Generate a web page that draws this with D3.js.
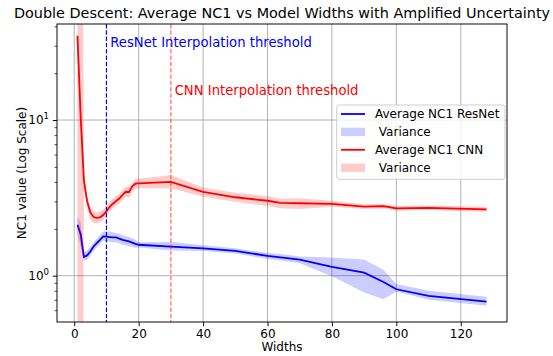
<!DOCTYPE html>
<html>
<head>
<meta charset="utf-8">
<script src="https://cdnjs.cloudflare.com/ajax/libs/d3/7.9.0/d3.min.js"></script>
<style>
  body { margin: 0; background: #fff; }
  svg { display: block; font-family: "DejaVu Sans", sans-serif; }
</style>
</head>
<body>
<div id="chart"></div>
<script>
// --- dados ---
const widths = [1, 2, 3, 4, 5, 6, 7, 8, 9, 10, 11, 12, 13, 14, 15, 16, 17, 18, 19, 20,
  30, 40, 50, 60, 64, 70, 80, 90, 96, 100, 110, 128];

const resnetMean = [2.12, 1.85, 1.32, 1.35, 1.43, 1.54, 1.62, 1.7, 1.79, 1.78, 1.77, 1.76, 1.76, 1.73, 1.7, 1.68, 1.66, 1.63, 1.6, 1.58,
  1.535, 1.5, 1.445, 1.34, 1.31, 1.27, 1.14, 1.045, 0.91, 0.818, 0.741, 0.681];
const resnetLow = [1.82, 1.55, 1.25, 1.27, 1.35, 1.45, 1.52, 1.6, 1.68, 1.66, 1.65, 1.64, 1.64, 1.61, 1.58, 1.56, 1.55, 1.53, 1.51, 1.52,
  1.45, 1.44, 1.39, 1.28, 1.25, 1.2, 0.99, 0.78, 0.705, 0.79, 0.7, 0.64];
const resnetHigh = [2.39, 2.2, 1.42, 1.45, 1.53, 1.64, 1.73, 1.82, 1.92, 1.93, 1.92, 1.9, 1.88, 1.86, 1.82, 1.8, 1.77, 1.74, 1.7, 1.64,
  1.65, 1.57, 1.5, 1.4, 1.38, 1.33, 1.31, 1.27, 1.09, 0.885, 0.8, 0.733];

const cnnMean = [34.8, 10.5, 4.1, 3.0, 2.55, 2.38, 2.35, 2.37, 2.45, 2.6, 2.77, 2.9, 3.02, 3.13, 3.3, 3.46, 3.45, 3.75, 3.9, 3.92,
  4.0, 3.46, 3.19, 3.03, 2.94, 2.92, 2.89, 2.78, 2.8, 2.71, 2.73, 2.67];
const cnnLow = [1e-6, 1e-6, 3.7, 2.75, 2.3, 2.17, 2.17, 2.2, 2.27, 2.42, 2.58, 2.7, 2.8, 2.9, 3.06, 3.2, 3.18, 3.42, 3.62, 3.64,
  3.64, 3.22, 2.99, 2.8, 2.71, 2.68, 2.77, 2.68, 2.7, 2.62, 2.64, 2.57];
const cnnHigh = [1e6, 1e6, 4.5, 3.3, 2.8, 2.6, 2.56, 2.58, 2.66, 2.82, 2.98, 3.12, 3.25, 3.37, 3.55, 3.72, 3.72, 3.98, 4.2, 4.2,
  4.43, 3.69, 3.41, 3.25, 3.12, 3.14, 3.03, 2.88, 2.9, 2.8, 2.82, 2.77];

const xTicks = [0, 20, 40, 60, 80, 100, 120];
const yMajor = [1, 10];
const yMinor = [0.6, 0.7, 0.8, 0.9, 2, 3, 4, 5, 6, 7, 8, 9, 20, 30, 40];
const thresholds = [
  { w: 10, label: "ResNet Interpolation threshold", cor: "blue", linha: "blue", opac: 1, ty: 47 },
  { w: 30, label: "CNN Interpolation threshold", cor: "red", linha: "red", opac: 0.6, ty: 95 },
];
const legenda = [
  { tipo: "linha", cor: "blue", texto: "Average NC1 ResNet" },
  { tipo: "area", cor: "rgba(0,0,255,0.2)", texto: " Variance" },
  { tipo: "linha", cor: "red", texto: "Average NC1 CNN" },
  { tipo: "area", cor: "rgba(255,0,0,0.2)", texto: " Variance" },
];

const W = 553, H = 356;
const esq = 57, dir = 507, topo = 24, base = 322;

const svg = d3.select("#chart").append("svg")
  .attr("width", W).attr("height", H);

const x = d3.scaleLinear().domain([-5.35, 134.35]).range([esq, dir]);
const y = d3.scaleLog().domain([0.504, 41.4]).range([base, topo]);

svg.append("defs").append("clipPath").attr("id", "clip")
  .append("rect").attr("x", esq).attr("y", topo)
  .attr("width", dir - esq).attr("height", base - topo);

// grade
const grade = svg.append("g");
xTicks.forEach(t => {
  grade.append("line").attr("x1", x(t)).attr("x2", x(t)).attr("y1", topo).attr("y2", base)
    .attr("stroke", "#b0b0b0").attr("stroke-width", 0.96);
});
yMajor.forEach(t => {
  grade.append("line").attr("x1", esq).attr("x2", dir).attr("y1", y(t)).attr("y2", y(t))
    .attr("stroke", "#b0b0b0").attr("stroke-width", 0.96);
});

const plot = svg.append("g").attr("clip-path", "url(#clip)");

const linha = vals => d3.line().x((d, i) => x(widths[i])).y(d => y(d))(vals);
const area = (lo, hi) => d3.area()
  .x((d, i) => x(widths[i]))
  .y0((d, i) => y(lo[i]))
  .y1((d, i) => y(hi[i]))(widths);

plot.append("path").attr("d", linha(resnetMean))
  .attr("fill", "none").attr("stroke", "blue").attr("stroke-width", 1.8);
plot.append("path").attr("d", area(resnetLow, resnetHigh))
  .attr("fill", "blue").attr("fill-opacity", 0.2);
plot.append("path").attr("d", linha(cnnMean))
  .attr("fill", "none").attr("stroke", "red").attr("stroke-width", 1.8);
plot.append("path").attr("d", area(cnnLow, cnnHigh))
  .attr("fill", "red").attr("fill-opacity", 0.2);

// linhas de limiar + textos
thresholds.forEach(t => {
  plot.append("line").attr("x1", x(t.w)).attr("x2", x(t.w)).attr("y1", topo).attr("y2", base)
    .attr("stroke", t.linha).attr("stroke-opacity", t.opac).attr("stroke-width", 1.2)
    .attr("stroke-dasharray", "4.4,1.9");
  svg.append("text").attr("x", x(t.w) + 3.8).attr("y", t.ty)
    .attr("fill", t.cor).attr("font-size", 13.2).text(t.label);
});

// eixos
const eixoX = svg.append("g").attr("transform", `translate(0,${base})`)
  .call(d3.axisBottom(x).tickValues(xTicks).tickSize(4.2).tickPadding(3.5));
eixoX.select(".domain").remove();
eixoX.selectAll("line").attr("stroke", "#000").attr("stroke-width", 0.96);
eixoX.selectAll("text").attr("font-size", 12).attr("fill", "#000")
  .attr("font-family", "DejaVu Sans");

const eixoYMin = svg.append("g").attr("transform", `translate(${esq},0)`)
  .call(d3.axisLeft(y).tickValues(yMinor).tickSize(2.4).tickFormat(() => ""));
eixoYMin.select(".domain").remove();
eixoYMin.selectAll("line").attr("stroke", "#000").attr("stroke-width", 0.72);

const eixoY = svg.append("g").attr("transform", `translate(${esq},0)`)
  .call(d3.axisLeft(y).tickValues(yMajor).tickSize(4.2).tickFormat(() => ""));
eixoY.select(".domain").remove();
eixoY.selectAll("line").attr("stroke", "#000").attr("stroke-width", 0.96);

yMajor.forEach(t => {
  const txt = svg.append("text").attr("x", esq - 8).attr("y", y(t) + 4.3)
    .attr("text-anchor", "end").attr("font-size", 12).attr("fill", "#000");
  txt.append("tspan").text("10");
  txt.append("tspan").attr("font-size", 8.6).attr("dy", -5.2).text(Math.round(Math.log10(t)));
});

// moldura
svg.append("rect").attr("x", esq).attr("y", topo)
  .attr("width", dir - esq).attr("height", base - topo)
  .attr("fill", "none").attr("stroke", "#000").attr("stroke-width", 0.96);

// rótulos
svg.append("text").attr("x", (esq + dir) / 2).attr("y", 351)
  .attr("text-anchor", "middle").attr("font-size", 12).text("Widths");
svg.append("text")
  .attr("transform", `translate(26,${(topo + base) / 2}) rotate(-90)`)
  .attr("text-anchor", "middle").attr("font-size", 12).text("NC1 value (Log Scale)");
svg.append("text").attr("x", (esq + dir) / 2).attr("y", 18)
  .attr("text-anchor", "middle").attr("font-size", 14.4).text("Double Descent: Average NC1 vs Model Widths with Amplified Uncertainty");

// legenda
const leg = svg.append("g");
leg.append("rect").attr("x", 336.7).attr("y", 105).attr("width", 168.3).attr("height", 74.3)
  .attr("rx", 2.4).attr("fill", "rgba(255,255,255,0.8)")
  .attr("stroke", "#cccccc").attr("stroke-width", 0.96);
legenda.forEach((d, i) => {
  const cy = 114 + i * 17.9;
  if (d.tipo === "linha") {
    leg.append("line").attr("x1", 341).attr("x2", 365).attr("y1", cy).attr("y2", cy)
      .attr("stroke", d.cor).attr("stroke-width", 1.8);
  } else {
    leg.append("rect").attr("x", 341).attr("y", cy - 4.2).attr("width", 24).attr("height", 8.4)
      .attr("fill", d.cor);
  }
  leg.append("text").attr("x", 375).attr("y", cy + 4.3).attr("font-size", 12)
    .attr("xml:space", "preserve").style("white-space", "pre").text(d.texto);
});
</script>
</body>
</html>
